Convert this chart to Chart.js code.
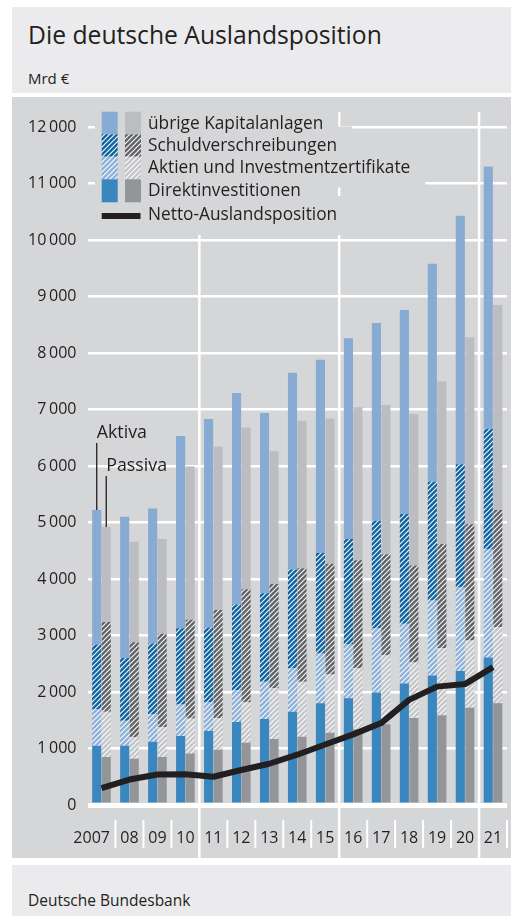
<!DOCTYPE html>
<html lang="de">
<head>
<meta charset="utf-8">
<title>Die deutsche Auslandsposition</title>
<script src="https://cdn.jsdelivr.net/npm/chart.js@4/dist/chart.umd.min.js"></script>
<style>
  html, body { margin: 0; padding: 0; background: #fff; }
  body { width: 511px; height: 916px; position: relative; overflow: hidden;
         font-family: "Open Sans", sans-serif; color: #231f20; }
  .kopf { position: absolute; left: 12px; top: 7px; width: 499px; height: 86px; background: #ebebed; }
  .kopf h1 { position: absolute; left: 16px; top: 13px; margin: 0; font-size: 24.7px; font-weight: 400; line-height: 30px; }
  .kopf .einheit { position: absolute; left: 16px; top: 61px; font-size: 15px; line-height: 20px; }
  #grafik { position: absolute; left: 12px; top: 97px; background: #d5d6d8; }
  .fuss { position: absolute; left: 12px; top: 865px; width: 499px; height: 51px; background: #ebebed; }
  .fuss span { position: absolute; left: 16px; top: 25px; font-size: 15.5px; line-height: 20px; }
</style>
</head>
<body>
<div class="kopf">
  <h1>Die deutsche Auslandsposition</h1>
  <div class="einheit">Mrd €</div>
</div>
<canvas id="grafik" width="499" height="761"></canvas>
<div class="fuss"><span>Deutsche Bundesbank</span></div>

<script>
// Jahre und Bestände in Mrd Euro
const jahre = ['2007', '08', '09', '10', '11', '12', '13', '14', '15', '16', '17', '18', '19', '20', '21'];

const aktivaDirekt  = [1050, 1050, 1120, 1220, 1310, 1470, 1520, 1650, 1800, 1890, 1990, 2150, 2290, 2370, 2610];
const aktivaAktien  = [650, 440, 490, 560, 510, 560, 660, 770, 880, 950, 1140, 1060, 1330, 1480, 1910];
const aktivaSchuld  = [1140, 1110, 1250, 1350, 1320, 1520, 1570, 1750, 1780, 1870, 1900, 1940, 2100, 2180, 2140];
const aktivaUebrige = [2380, 2500, 2390, 3400, 3690, 3740, 3190, 3480, 3420, 3550, 3500, 3610, 3860, 4400, 4640];

const passivaDirekt  = [850, 820, 850, 910, 980, 1100, 1170, 1210, 1280, 1340, 1430, 1540, 1590, 1720, 1800];
const passivaAktien  = [800, 380, 530, 620, 560, 720, 900, 970, 1030, 1080, 1220, 980, 1190, 1190, 1350];
const passivaSchuld  = [1590, 1680, 1650, 1750, 1910, 2000, 1840, 2010, 1960, 1910, 1790, 1720, 1840, 2060, 2070];
const passivaUebrige = [1680, 1780, 1680, 2710, 2890, 2860, 2350, 2610, 2570, 2710, 2640, 2680, 2880, 3310, 3630];

const netto = [300, 450, 540, 545, 500, 620, 730, 890, 1070, 1250, 1450, 1860, 2095, 2140, 2440];

const yMax = 12000;
const yStep = 1000;

const legendeTexte = ['übrige Kapitalanlagen', 'Schuldverschreibungen',
  'Aktien und Investmentzertifikate', 'Direktinvestitionen', 'Netto-Auslandsposition'];

const textFarbe = '#231f20';
const schrift = '"Open Sans", sans-serif';

// schraffierte Füllung: weiße Diagonalen auf Grundfarbe
function schraffur(grund) {
  const s = 5;
  const c = document.createElement('canvas');
  c.width = s; c.height = s;
  const g = c.getContext('2d');
  g.fillStyle = grund;
  g.fillRect(0, 0, s, s);
  g.strokeStyle = 'rgba(255,255,255,0.95)';
  g.lineWidth = 1.2;
  g.beginPath();
  g.moveTo(-1, s + 1); g.lineTo(s + 1, -1);
  g.moveTo(-1, 1); g.lineTo(1, -1);
  g.moveTo(s - 1, s + 1); g.lineTo(s + 1, s - 1);
  g.stroke();
  return g.createPattern(c, 'repeat');
}

const farben = {
  aDirekt: '#3a87bf',
  aAktien: schraffur('#8db0d7'),
  aSchuld: schraffur('#0d63a1'),
  aUebrige: '#88abd3',
  pDirekt: '#939598',
  pAktien: schraffur('#c4c5c8'),
  pSchuld: schraffur('#616265'),
  pUebrige: '#bcbdc0'
};

function balken(werte, farbe, stapel) {
  return {
    type: 'bar', data: werte, backgroundColor: farbe, stack: stapel,
    borderWidth: 0, categoryPercentage: 0.68, barPercentage: 0.96, order: 1
  };
}

// Raster, Legende, Achsenbeschriftung unter den Balken
const kulisse = {
  id: 'kulisse',
  beforeDatasetsDraw(chart) {
    const { ctx, chartArea, scales } = chart;
    const x = scales.x;
    const n = jahre.length;
    const schritt = (chartArea.right - chartArea.left) / n;
    ctx.save();

    // Trennlinien zwischen den Jahren
    ctx.strokeStyle = '#fff';
    for (let k = 1; k <= n; k++) {
      const bx = chartArea.left + k * schritt;
      ctx.beginPath();
      if (k % 5 === 4) {
        ctx.lineWidth = 2.5;
        ctx.moveTo(bx, 15); ctx.lineTo(bx, chart.height);
      } else {
        ctx.lineWidth = 2;
        ctx.moveTo(bx, 723); ctx.lineTo(bx, 751);
      }
      ctx.stroke();
    }

    // Jahreszahlen
    ctx.fillStyle = textFarbe;
    ctx.font = '16px ' + schrift;
    ctx.textBaseline = 'middle';
    jahre.forEach((j, i) => {
      if (i === 0) {
        ctx.textAlign = 'right';
        ctx.fillText(j, chartArea.left + schritt - 5.5, 741);
      } else {
        ctx.textAlign = 'center';
        ctx.fillText(j, x.getPixelForValue(i), 741);
      }
    });

    // Legende mit Hintergrund über dem Gitter
    const textX = 136;
    const mitten = [27, 49, 71, 94, 118.5];
    ctx.font = '17.3px ' + schrift;
    ctx.textAlign = 'left';
    ctx.fillStyle = '#d5d6d8';
    legendeTexte.forEach((t, i) => {
      const w = ctx.measureText(t).width;
      ctx.fillRect(83, mitten[i] - 19.5, textX + w + 15 - 83, 39);
    });
    const reihen = [
      [farben.aUebrige, farben.pUebrige],
      [farben.aSchuld, farben.pSchuld],
      [farben.aAktien, farben.pAktien],
      [farben.aDirekt, farben.pDirekt]
    ];
    const oben = [14.7, 37.3, 59.7, 82.3, 105.3];
    reihen.forEach((r, i) => {
      const h = oben[i + 1] - oben[i];
      ctx.fillStyle = r[0];
      ctx.fillRect(89.7, oben[i], 16, h);
      ctx.fillStyle = r[1];
      ctx.fillRect(113, oben[i], 16, h);
    });
    ctx.strokeStyle = textFarbe;
    ctx.lineWidth = 6;
    ctx.beginPath();
    ctx.moveTo(89.7, 119); ctx.lineTo(128.5, 119);
    ctx.stroke();
    ctx.fillStyle = textFarbe;
    legendeTexte.forEach((t, i) => ctx.fillText(t, textX, mitten[i]));

    // Hinweise Aktiva / Passiva am ersten Jahr
    const aFuss = chart.getDatasetMeta(0).data[0];
    const aKopf = chart.getDatasetMeta(3).data[0];
    const pFuss = chart.getDatasetMeta(4).data[0];
    const pKopf = chart.getDatasetMeta(7).data[0];
    ctx.lineWidth = 1.3;
    ctx.beginPath();
    ctx.moveTo(aFuss.x, 346); ctx.lineTo(aFuss.x, aKopf.y);
    ctx.moveTo(pFuss.x, 379); ctx.lineTo(pFuss.x, pKopf.y);
    ctx.stroke();
    ctx.font = '17.8px ' + schrift;
    ctx.fillText('Aktiva', aFuss.x, 336);
    ctx.fillText('Passiva', pFuss.x, 369);

    ctx.restore();
  }
};

new Chart(document.getElementById('grafik'), {
  data: {
    labels: jahre,
    datasets: [
      balken(aktivaDirekt, farben.aDirekt, 'A'),
      balken(aktivaAktien, farben.aAktien, 'A'),
      balken(aktivaSchuld, farben.aSchuld, 'A'),
      balken(aktivaUebrige, farben.aUebrige, 'A'),
      balken(passivaDirekt, farben.pDirekt, 'P'),
      balken(passivaAktien, farben.pAktien, 'P'),
      balken(passivaSchuld, farben.pSchuld, 'P'),
      balken(passivaUebrige, farben.pUebrige, 'P'),
      {
        type: 'line', data: netto, borderColor: textFarbe, borderWidth: 6,
        pointRadius: 0, tension: 0, borderJoinStyle: 'round', order: 0
      }
    ]
  },
  options: {
    responsive: false,
    devicePixelRatio: 1,
    animation: false,
    layout: { padding: { top: 30, right: 4, left: 0, bottom: 0 } },
    plugins: { legend: { display: false }, tooltip: { enabled: false } },
    scales: {
      x: {
        stacked: true,
        grid: { display: false },
        border: { display: false },
        ticks: { display: false },
        afterFit(scale) { scale.height = 53; }
      },
      y: {
        stacked: true,
        min: 0,
        max: yMax,
        border: { display: false },
        grid: {
          color: '#fff',
          lineWidth: c => (c.tick && c.tick.value === 0 ? 5 : 2.5),
          drawTicks: false
        },
        ticks: {
          stepSize: yStep,
          padding: 11,
          color: textFarbe,
          font: { family: schrift, size: 16 },
          callback: v => String(v).replace(/\B(?=(\d{3})+(?!\d))/g, '\u2009')
        },
        afterFit(scale) { scale.width = 75.5; }
      }
    }
  },
  plugins: [kulisse]
});
</script>
</body>
</html>
